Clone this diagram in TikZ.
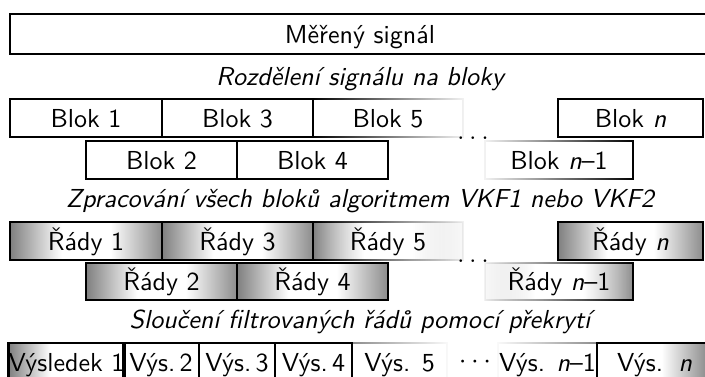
\documentclass[tikz,border=0pt]{standalone}
\usepackage{fontspec}
\setsansfont{lmsans10-regular.otf}[ItalicFont=lmsans10-oblique.otf, SlantedFont=lmsans10-oblique.otf, BoldFont=lmsans10-bold.otf]
\usetikzlibrary{fadings}
\pgfdeclarehorizontalshading{rady}{100bp}{color(0bp)=(black!50); color(25bp)=(black!50); color(42bp)=(white); color(58bp)=(white); color(75bp)=(black!45); color(100bp)=(black!45)}
\pgfdeclarehorizontalshading{resL}{100bp}{color(0bp)=(black!50); color(25bp)=(black!50); color(43bp)=(white); color(100bp)=(white)}
\pgfdeclarehorizontalshading{resR}{100bp}{color(0bp)=(white); color(53bp)=(white); color(75bp)=(black!50); color(100bp)=(black!50)}
\tikzfading[name=fadeR, left color=transparent!0, middle color=transparent!15, right color=transparent!95]
\tikzfading[name=fadeL, left color=transparent!95, middle color=transparent!15, right color=transparent!0]
\newcommand\mybox[7]{\node[#1, minimum width={(#4-#3)*0.75pt}, minimum height={(#6-#5)*0.75pt}] (#2) at ({(#3+#4)/2},{(#5+#6)/2}) {#7};}
\begin{document}
\begin{tikzpicture}[x=0.75pt,y=-0.75pt,
  font=\sffamily\fontsize{19.5}{23}\selectfont,
  box/.style={draw, line width=1.9pt, rectangle, inner sep=0pt, text height=13.5pt, text depth=0pt},
  fboxR/.style={box, line width=1.1pt, path fading=fadeR},
  fboxL/.style={box, line width=1.1pt, path fading=fadeL},
  radybox/.style={box, shading=rady},
  lbl/.style={anchor=base, font=\sffamily\itshape\fontsize{19.5}{23}\selectfont},
  dots/.style={anchor=base, inner sep=0pt}]
\useasboundingbox (0,0) rectangle (705,376);
% top
\mybox{box}{sig}{10}{710}{14}{54}{Měřený signál}
\node[lbl] (t1) at (360,85) {Rozdělení signálu na bloky};
% blocks
\mybox{fboxR}{b5}{313}{463}{99}{137}{Blok 5}
\mybox{fboxL}{bn1}{485}{633}{141}{179}{Blok \textit{n}–1}
\mybox{box}{b1}{10}{162}{99}{137}{Blok 1}
\mybox{box}{b3}{162}{313}{99}{137}{Blok 3}
\mybox{box}{bn}{558}{703}{99}{137}{Blok \textit{n}}
\mybox{box}{b2}{86}{237}{141}{179}{Blok 2}
\mybox{box}{b4}{237}{388}{141}{179}{Blok 4}
\node[dots] (d1) at (473,139) {$\ldots$};
\node[lbl] (t2) at (360,207) {Zpracování všech bloků algoritmem VKF1 nebo VKF2};
% rows
\mybox{fboxR,shading=rady}{r5}{313}{463}{222}{260}{Řády 5}
\mybox{fboxL,shading=rady}{rn1}{485}{633}{263}{300}{Řády \textit{n}–1}
\mybox{radybox}{r1}{10}{162}{222}{260}{Řády 1}
\mybox{radybox}{r3}{162}{313}{222}{260}{Řády 3}
\mybox{radybox}{rn}{558}{703}{222}{260}{Řády \textit{n}}
\mybox{radybox}{r2}{86}{237}{263}{300}{Řády 2}
\mybox{radybox}{r4}{237}{388}{263}{300}{Řády 4}
\node[dots] (d2) at (473,262) {$\ldots$};
\node[lbl] (t3) at (360,328) {Sloučení filtrovaných řádů pomocí překrytí};
% results
\mybox{fboxR,draw=black!45}{v5}{352}{447}{343}{381}{Výs. 5}
\mybox{fboxL,draw=black!45}{vn1}{498}{597}{343}{381}{Výs. \textit{n}–1}
\mybox{box,shading=resL}{v1}{10}{123}{343}{381}{Výsledek 1}
\mybox{box}{v2}{123}{199}{343}{381}{Výs.\,2}
\mybox{box}{v3}{199}{275}{343}{381}{Výs.\,3}
\mybox{box}{v4}{275}{352}{343}{381}{Výs.\,4}
\mybox{box,shading=resR}{vn}{597}{712}{343}{381}{Výs.\hspace{0.6em}\textit{n}}
\node[inner sep=0pt] (d3) at (475,362) {$\cdots$};
\end{tikzpicture}
\end{document}
